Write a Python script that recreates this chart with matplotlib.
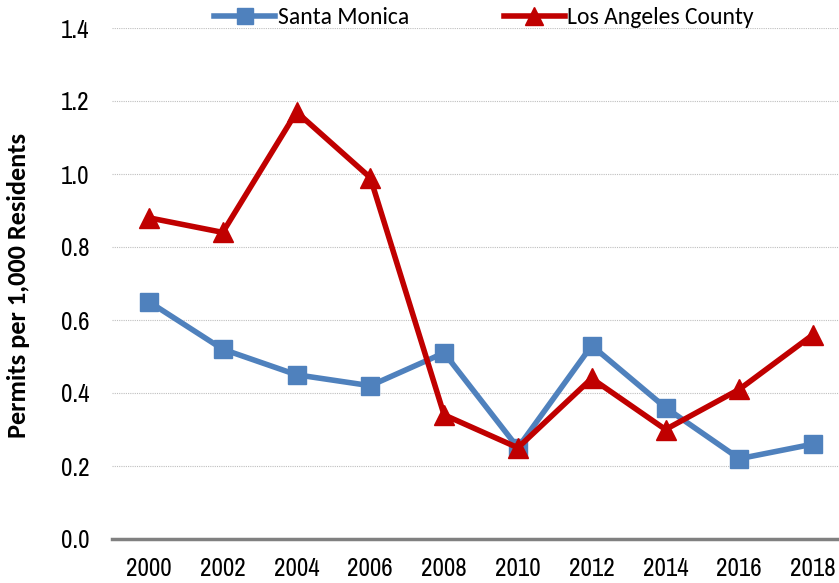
import matplotlib
matplotlib.use("Agg")
import matplotlib.pyplot as plt

years = ["2000", "2002", "2004", "2006", "2008", "2010", "2012", "2014", "2016", "2018"]
santa_monica = [0.65, 0.52, 0.45, 0.42, 0.51, 0.25, 0.53, 0.36, 0.22, 0.26]
la_county = [0.88, 0.84, 1.17, 0.99, 0.34, 0.25, 0.44, 0.30, 0.41, 0.56]
y_ticks = [0.0, 0.2, 0.4, 0.6, 0.8, 1.0, 1.2, 1.4]

narrow = ["Archivo Narrow", "DejaVu Sans"]
calibri = ["Carlito", "DejaVu Sans"]

W, H = 839, 583
fig = plt.figure(figsize=(W / 100, H / 100), dpi=100)
left = 112 / W
right = 850 / W
bottom = 1 - 539 / H
top = 1 - 28 / H
ax = fig.add_axes([left, bottom, right - left, top - bottom])

x = list(range(len(years)))
ax.plot(x, santa_monica, color="#4F81BD", lw=4, marker="s", ms=13, label="Santa Monica", zorder=3)
ax.plot(x, la_county, color="#C00000", lw=4, marker="^", ms=14, label="Los Angeles County", zorder=4)

ax.set_xlim(-0.5, len(years) - 0.5)
ax.set_ylim(0, 1.4)
ax.set_xticks(x)
ax.set_xticklabels(years, family=narrow, fontsize=18)
ax.set_yticks(y_ticks)
ax.set_yticklabels([f"{v:.1f}" for v in y_ticks], family=narrow, fontsize=18)
ax.tick_params(axis="both", length=0)
ax.tick_params(axis="x", pad=13)
ax.tick_params(axis="y", pad=16)

for v in y_ticks[1:]:
    ax.axhline(v, color="#BFBFBF", lw=0.8, ls=(0, (1, 1)), zorder=1)
ax.axhline(0, color="#808080", lw=2.5, zorder=2, clip_on=False)

for s in ax.spines.values():
    s.set_visible(False)

fig.text(19 / W, 1 - 285 / H, "Permits per 1,000 Residents", rotation=90,
         ha="center", va="center", fontsize=19, fontweight="bold", family=calibri)

leg = fig.legend(loc="center", bbox_to_anchor=(484 / W, 1 - 18 / H), ncol=2, frameon=False,
                 prop={"family": calibri, "size": 17}, handlelength=2.6, handletextpad=0.1,
                 columnspacing=4.0, markerscale=0.9, borderaxespad=0)

fig.savefig("out.png", dpi=100)
